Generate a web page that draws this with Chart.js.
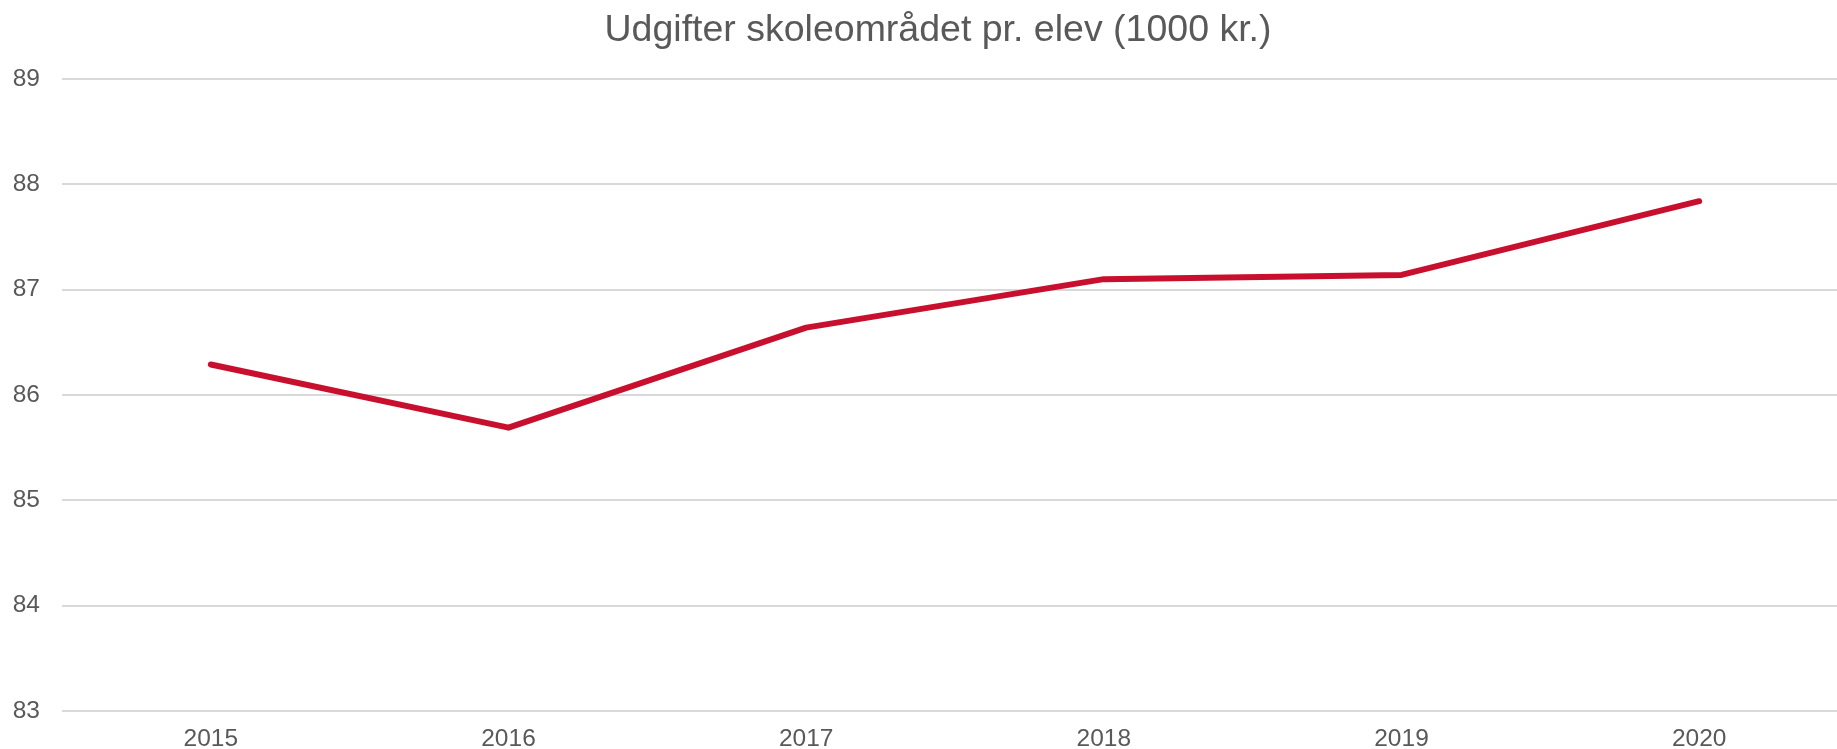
<!DOCTYPE html>
<html>
<head>
<meta charset="utf-8">
<title>Udgifter skoleområdet pr. elev</title>
<script src="https://cdn.jsdelivr.net/npm/chart.js"></script>
<style>
    html, body { margin: 0; padding: 0; overflow: hidden; background: #fff; }
    #chartDiv { width: 1876px; height: 749px; }
</style>
</head>
<body>
<div id="chartDiv"><canvas id="myChart"></canvas></div>
<script>
// chart data
const years = ["2015", "2016", "2017", "2018", "2019", "2020"];
const udgifter = [86.29, 85.69, 86.64, 87.10, 87.14, 87.84];
const yMin = 83;
const yMax = 89;

const titleText = "Udgifter skoleområdet pr. elev (1000 kr.)";
const grey = "#595959";
const fontFamily = "'Liberation Sans', Arial, sans-serif";

new Chart(document.getElementById("myChart"), {
    type: "line",
    data: {
        labels: years,
        datasets: [
            {
                label: "Udgifter",
                data: udgifter,
                yAxisID: "y",
                borderColor: "#c8102e",
                borderWidth: 6,
                borderCapStyle: "round",
                borderJoinStyle: "round",
                pointRadius: 0,
                tension: 0
            }
        ]
    },
    options: {
        responsive: true,
        maintainAspectRatio: false,
        animation: false,
        layout: {
            padding: 0
        },
        plugins: {
            legend: { display: false },
            tooltip: { enabled: false },
            title: {
                display: true,
                text: titleText,
                color: grey,
                font: { family: fontFamily, size: 37.5, weight: "normal" },
                padding: { top: 8, bottom: 26 }
            }
        },
        scales: {
            x: {
                offset: true,
                grid: { display: false, drawTicks: false },
                border: { display: false },
                ticks: {
                    color: grey,
                    padding: 14,
                    font: { family: fontFamily, size: 24.5 }
                },
                afterFit: function (scale) {
                    scale.height = 38;
                }
            },
            y: {
                min: yMin,
                max: yMax,
                grid: { color: "#d9d9d9", lineWidth: 2, drawTicks: false },
                border: { display: false },
                ticks: {
                    stepSize: 1,
                    color: grey,
                    padding: 22,
                    font: { family: fontFamily, size: 24.5 }
                },
                afterFit: function (scale) {
                    scale.width = 62;
                }
            },
            // empty axis on the right, only to keep the plot area where it belongs
            yRight: {
                position: "right",
                grid: { display: false },
                border: { display: false },
                ticks: { display: false },
                afterFit: function (scale) {
                    scale.width = 28;
                }
            }
        }
    }
});
</script>
</body>
</html>
